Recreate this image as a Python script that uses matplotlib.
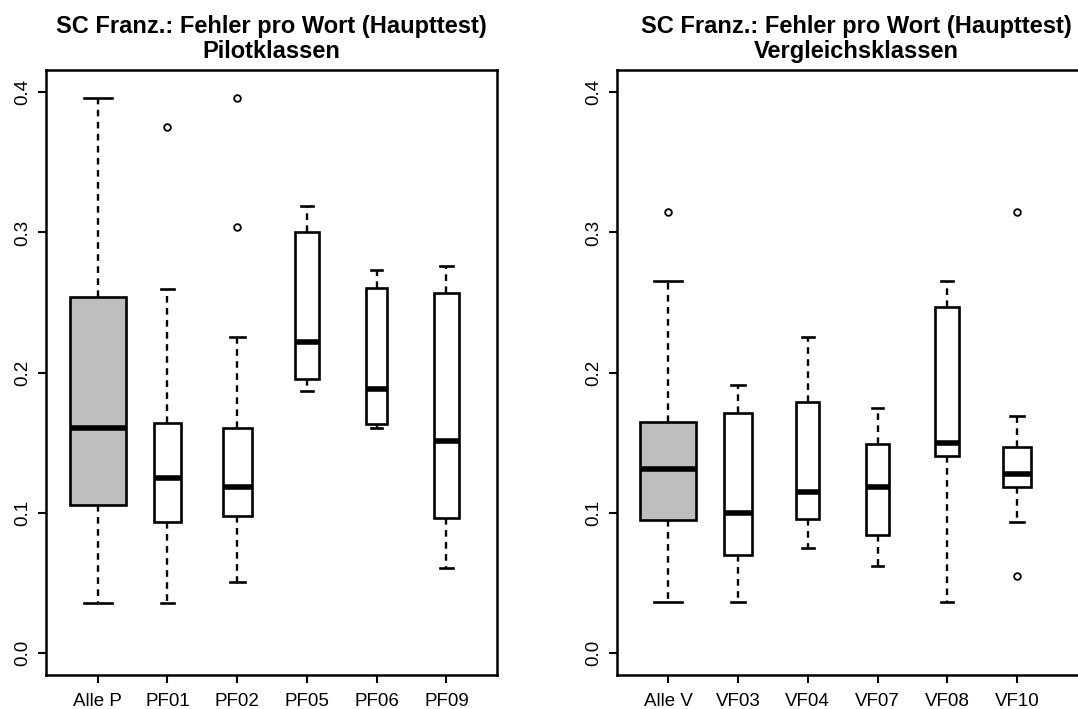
import matplotlib
matplotlib.use("Agg")
import matplotlib.pyplot as plt

plt.rcParams['font.family'] = ['Liberation Sans', 'DejaVu Sans']

# Pilotklassen
pilot_names = ["Alle P", "PF01", "PF02", "PF05", "PF06", "PF09"]
pilot_whislo = [0.0354, 0.0354, 0.0502, 0.1871, 0.1607, 0.0604]
pilot_q1 = [0.1056, 0.0934, 0.0977, 0.1952, 0.1631, 0.0961]
pilot_med = [0.1607, 0.1250, 0.1186, 0.2220, 0.1881, 0.1514]
pilot_q3 = [0.2541, 0.1638, 0.1605, 0.3000, 0.2601, 0.2566]
pilot_whishi = [0.3960, 0.2594, 0.2256, 0.3190, 0.2730, 0.2763]
pilot_fliers = [[], [0.375], [0.3963, 0.3039], [], [], []]

# Vergleichsklassen
vergl_names = ["Alle V", "VF03", "VF04", "VF07", "VF08", "VF10"]
vergl_whislo = [0.0359, 0.0364, 0.0749, 0.0616, 0.0359, 0.0934]
vergl_q1 = [0.0946, 0.0694, 0.0956, 0.0837, 0.1407, 0.1182]
vergl_med = [0.1310, 0.0996, 0.1150, 0.1179, 0.1496, 0.1272]
vergl_q3 = [0.1648, 0.1710, 0.1790, 0.1493, 0.2468, 0.1469]
vergl_whishi = [0.2653, 0.1909, 0.2254, 0.1743, 0.2653, 0.1688]
vergl_fliers = [[0.3148], [], [], [], [], [0.3148, 0.0544]]

title_top = "SC Franz.: Fehler pro Wort (Haupttest)"

# box widths (varwidth look)
pilot_widths = [0.80, 0.38, 0.42, 0.34, 0.31, 0.36]
vergl_widths = [0.80, 0.40, 0.33, 0.34, 0.35, 0.40]


def make_stats(names, lo, q1, med, q3, hi, fliers):
    stats = []
    for i in range(len(names)):
        stats.append(dict(label=names[i], whislo=lo[i], q1=q1[i], med=med[i],
                          q3=q3[i], whishi=hi[i], fliers=fliers[i]))
    return stats


def draw_panel(ax, stats, widths, subtitle, xlim):
    positions = list(range(1, len(stats) + 1))
    bp = ax.bxp(stats, positions=positions, widths=widths,
                capwidths=[w * 0.5 for w in widths],
                patch_artist=True, showfliers=True,
                boxprops=dict(facecolor="white", edgecolor="black", linewidth=1.9),
                whiskerprops=dict(color="black", linewidth=1.7, linestyle=(0, (2.8, 2.3))),
                capprops=dict(color="black", linewidth=1.9),
                medianprops=dict(color="black", linewidth=4.0, solid_capstyle="butt"),
                flierprops=dict(marker="o", markerfacecolor="none", markeredgecolor="black",
                                markersize=4.8, markeredgewidth=1.3))
    bp["boxes"][0].set_facecolor("#bebebe")

    ax.set_xlim(*xlim)
    ax.set_ylim(-0.016, 0.416)
    ax.set_yticks([0.0, 0.1, 0.2, 0.3, 0.4])
    ax.set_yticklabels(["0.0", "0.1", "0.2", "0.3", "0.4"], rotation=90, va="center")
    ax.set_xticks(positions)
    ax.set_xticklabels([s["label"] for s in stats])
    ax.tick_params(axis="both", direction="out", length=5.5, width=1.5, labelsize=13.5)
    ax.tick_params(axis="y", pad=5)
    ax.tick_params(axis="x", pad=7.5)
    for sp in ax.spines.values():
        sp.set_linewidth(1.8)
    ax.set_title(title_top + "\n" + subtitle, fontsize=17, fontweight="bold",
                 linespacing=1.1, pad=9)


fig = plt.figure(figsize=(10.78, 7.09), dpi=100)

ax1 = fig.add_axes([46 / 1078, 0.04795, 451 / 1078, 0.8533])
ax2 = fig.add_axes([617 / 1078, 0.04795, 478 / 1078, 0.8533])

draw_panel(ax1, make_stats(pilot_names, pilot_whislo, pilot_q1, pilot_med, pilot_q3,
                           pilot_whishi, pilot_fliers),
           pilot_widths, "Pilotklassen", (0.259, 6.725))
draw_panel(ax2, make_stats(vergl_names, vergl_whislo, vergl_q1, vergl_med, vergl_q3,
                           vergl_whishi, vergl_fliers),
           vergl_widths, "Vergleichsklassen", (0.265, 7.118))

fig.savefig("out.png", dpi=100)
